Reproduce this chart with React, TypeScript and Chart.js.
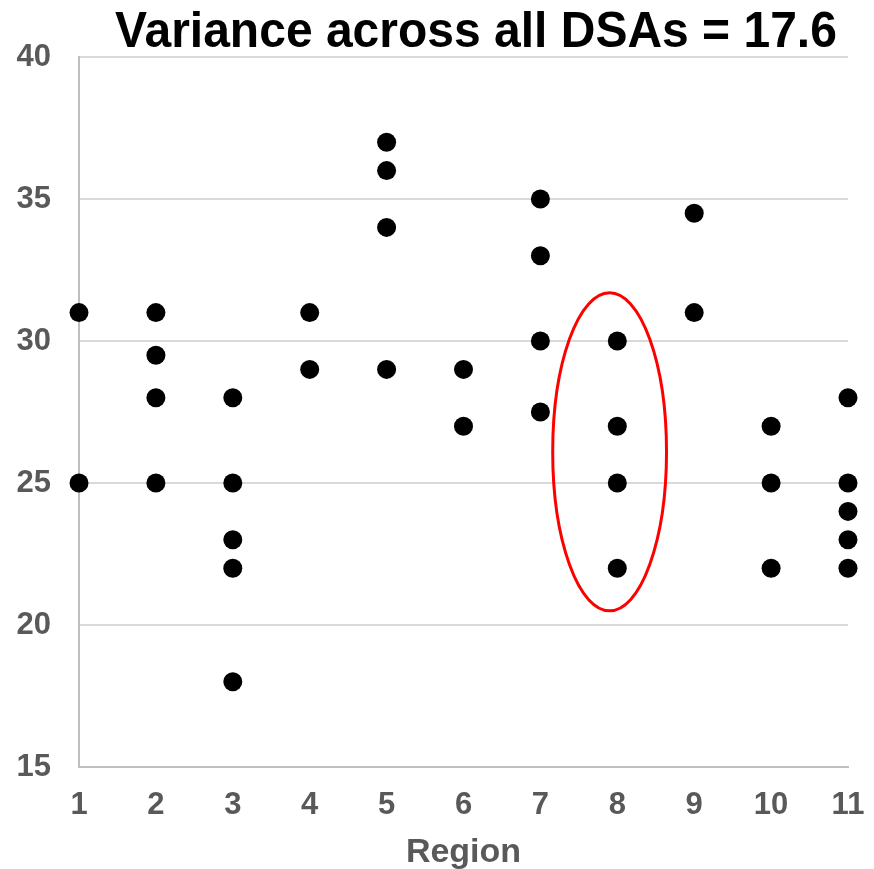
import React, { useEffect, useRef } from "react";
import { Chart, registerables } from "chart.js";

Chart.register(...registerables);

// ---- Data ----
const titleText = "Variance across all DSAs = 17.6";
const xAxisTitle = "Region";
const regionMin = 1;
const regionMax = 11;
const yMin = 15;
const yMax = 40;
const yStep = 5;

// One entry per DSA: its region (x) and its value (y)
const regionX = [
  1, 1,
  2, 2, 2, 2,
  3, 3, 3, 3, 3,
  4, 4,
  5, 5, 5, 5,
  6, 6,
  7, 7, 7, 7,
  8, 8, 8, 8,
  9, 9,
  10, 10, 10,
  11, 11, 11, 11, 11,
];
const dsaValues = [
  31, 25,
  31, 29.5, 28, 25,
  28, 25, 23, 22, 18,
  31, 29,
  37, 36, 34, 29,
  29, 27,
  35, 33, 30, 27.5,
  30, 27, 25, 22,
  34.5, 31,
  27, 25, 22,
  28, 25, 24, 23, 22,
];

// Highlight ellipse around region 8 (data units)
const ellipseCenter = [7.9, 26.1];
const ellipseRadius = [0.74, 5.6];

const FONT = "'Liberation Sans', Arial, Helvetica, sans-serif";

export default function App() {
  const canvasRef = useRef<HTMLCanvasElement | null>(null);

  useEffect(() => {
    document.body.style.margin = "0";
    const canvas = canvasRef.current;
    if (!canvas) return;

    const points = regionX.map((x, i) => ({ x, y: dsaValues[i] }));

    const titlePlugin = {
      id: "customTitle",
      afterDraw(chart: any) {
        const ctx = chart.ctx;
        ctx.save();
        ctx.translate(476, 46.5);
        ctx.scale(1, 1.06);
        ctx.font = `bold 48px ${FONT}`;
        ctx.fillStyle = "#000000";
        ctx.textAlign = "center";
        ctx.textBaseline = "alphabetic";
        ctx.fillText(titleText, 0, 0);
        ctx.restore();
      },
    };

    const ellipsePlugin = {
      id: "highlightEllipse",
      afterDatasetsDraw(chart: any) {
        const { ctx, scales } = chart;
        const xs = scales.x;
        const ys = scales.y;
        const cx = xs.getPixelForValue(ellipseCenter[0]);
        const cy = ys.getPixelForValue(ellipseCenter[1]);
        const rx = Math.abs(xs.getPixelForValue(ellipseCenter[0] + ellipseRadius[0]) - cx);
        const ry = Math.abs(ys.getPixelForValue(ellipseCenter[1] + ellipseRadius[1]) - cy);
        ctx.save();
        ctx.beginPath();
        ctx.ellipse(cx, cy, rx, ry, 0, 0, Math.PI * 2);
        ctx.strokeStyle = "#ff0000";
        ctx.lineWidth = 3;
        ctx.stroke();
        ctx.restore();
      },
    };

    const chart = new Chart(canvas, {
      type: "scatter",
      data: {
        datasets: [
          {
            data: points,
            backgroundColor: "#000000",
            borderWidth: 0,
            pointRadius: 9.5,
            pointHoverRadius: 9.5,
            clip: false as any,
          },
        ],
      },
      options: {
        animation: false,
        responsive: false,
        devicePixelRatio: 1,
        layout: { padding: { top: 57, left: 0, right: 26, bottom: 0 } },
        plugins: {
          legend: { display: false },
          title: { display: false },
          tooltip: { enabled: false },
        },
        scales: {
          x: {
            type: "linear",
            min: regionMin,
            max: regionMax,
            afterFit: (s: any) => {
              s.height = 102;
              s.paddingLeft = 0;
              s.paddingRight = 0;
            },
            ticks: {
              stepSize: 1,
              padding: 20,
              color: "#595959",
              font: { family: FONT, size: 31, weight: "bold" },
            },
            grid: { display: false, drawTicks: false },
            border: { display: true, color: "#bfbfbf", width: 2 },
            title: {
              display: true,
              text: xAxisTitle,
              color: "#595959",
              font: { family: FONT, size: 34, weight: "bold" },
              padding: { top: 0, bottom: -4 },
            },
          },
          y: {
            type: "linear",
            min: yMin,
            max: yMax,
            afterFit: (s: any) => {
              s.width = 79;
            },
            ticks: {
              stepSize: yStep,
              padding: 28,
              color: "#595959",
              font: { family: FONT, size: 31, weight: "bold" },
            },
            grid: { color: "#d9d9d9", lineWidth: 2, drawTicks: false },
            border: { display: true, color: "#bfbfbf", width: 2 },
          },
        },
      },
      plugins: [titlePlugin, ellipsePlugin],
    });

    return () => {
      chart.destroy();
    };
  }, []);

  return (
    <div style={{ width: 874, height: 869 }}>
      <canvas ref={canvasRef} width={874} height={869} style={{ display: "block", width: 874, height: 869 }} />
    </div>
  );
}
